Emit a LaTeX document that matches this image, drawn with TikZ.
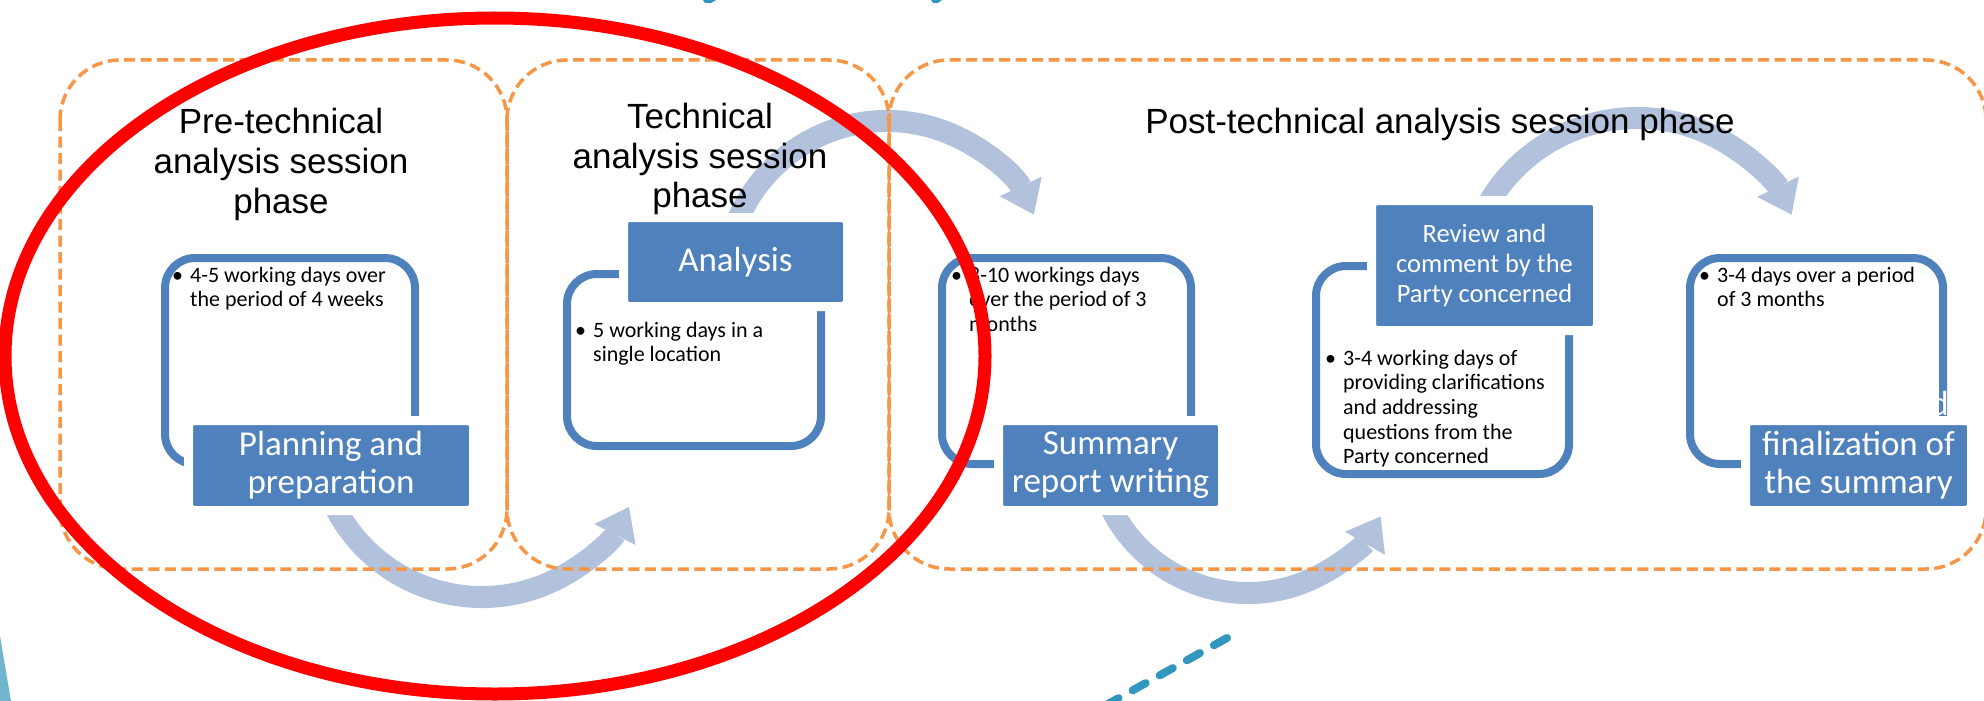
\documentclass[tikz,border=0pt]{standalone}
\usepackage{fontspec}
\setmainfont{Liberation Sans}
\newfontfamily\calibri{Carlito}
\usetikzlibrary{arrows.meta}
\definecolor{procblue}{RGB}{79,129,189}
\definecolor{arcblue}{RGB}{178,194,221}
\definecolor{frameorange}{RGB}{247,150,70}
\definecolor{markred}{RGB}{255,0,0}
\definecolor{tealdash}{RGB}{50,151,190}
\definecolor{tealwedge}{RGB}{114,181,206}
\newcommand{\titlelines}[1]{\begin{tabular}[t]{@{}c@{}}#1\end{tabular}}
\newcommand{\bulletlines}[1]{\begin{tabular}[t]{@{}l@{\hspace{7pt}}l@{}}\textbullet & #1\end{tabular}}

\begin{document}
\begin{tikzpicture}[x=1pt, y=-1pt,
		phaseframe/.style={draw=frameorange, line width=3.5pt, dash pattern=on 11pt off 5.5pt, rounded corners=60pt},
		flowarc/.style={draw=arcblue, line width=22pt, -{Triangle[width=46pt, length=31pt, line width=1pt]}},
		cycleline/.style={draw=procblue, line width=8pt, rounded corners=30pt},
		stepbox/.style={fill=procblue, draw=white, line width=9pt, rounded corners=6pt, text=white, align=center, inner sep=0pt, font=\calibri\fontsize{35}{38}\selectfont},
		phasetitle/.style={anchor=base, inner sep=0pt, font=\fontsize{35}{40}\selectfont},
		bodytext/.style={anchor=base west, inner sep=0pt, font=\calibri\fontsize{22}{24.7}\selectfont}]
	\useasboundingbox (0,0) rectangle (1984,701);
	\clip (0,0) rectangle (1984,701);
	\fill[white] (0,0) rectangle (1984,701);

	\begin{scope}
		\coordinate (a1) at (482,432);
		\coordinate (a2) at (887,283);
		\coordinate (a3) at (1248,440);
		\coordinate (a4) at (1637,290);
		\draw[flowarc] ([shift={(156:165)}]a1) arc[start angle=156, end angle=27, radius=165];
		\draw[flowarc] ([shift={(200:162)}]a2) arc[start angle=200, end angle=335, radius=162];
		\draw[flowarc] ([shift={(156:153)}]a3) arc[start angle=156, end angle=30, radius=153];
		\draw[flowarc] ([shift={(207:172)}]a4) arc[start angle=207, end angle=334, radius=172];
	\end{scope}

	\foreach \xa/\xb in {60/507, 507/889, 889/1986} {
		\draw[phaseframe] (\xa,60) rectangle (\xb,569);
	}
	\foreach \xs in {507, 889} {
		\draw[frameorange, line width=2pt] (\xs,120) -- (\xs,509);
	}

	\foreach \xa/\ya/\xb/\yb in {165/258/415/464, 567/274/821/446, 942/258/1191/464, 1316/266/1569/474, 1690/258/1943/464} {
		\draw[cycleline] (\xa,\ya) rectangle (\xb,\yb);
	}

	\node[stepbox, minimum width=285pt, minimum height=90pt] (plan) at (331,465.5) {Planning and\\preparation};
	\node[stepbox, minimum width=224pt, minimum height=89pt] (anal) at (735.5,262) {Analysis};
	\node[stepbox, minimum width=224pt, minimum height=90pt] (summ) at (1110.5,465.5) {Summary\\report writing};
	\node[stepbox, minimum width=226pt, minimum height=130pt, font=\calibri\fontsize{26.5}{30}\selectfont] (revw) at (1484.5,265.5) {Review and\\comment by the\\Party concerned};
	\node[stepbox, minimum width=226pt, minimum height=90pt] (finl) at (1858.5,465.5) {finalization of\\the summary};
	\node[anchor=base east, inner sep=0pt, text=white, font=\calibri\fontsize{35}{38}\selectfont] (dpart) at (1949,415) {d};

	\node[phasetitle] (pretitle) at (281,133) {\titlelines{Pre-technical\\analysis session\\phase}};
	\node[phasetitle] (techtitle) at (700,128) {\titlelines{Technical\\analysis session\\phase}};
	\node[phasetitle] (posttitle) at (1440,133) {Post-technical analysis session phase};

	\node[bodytext] (plantxt) at (172,282) {\bulletlines{4-5 working days over\\ & the period of 4 weeks}};
	\node[bodytext] (analtxt) at (575,337) {\bulletlines{5 working days in a\\ & single location}};
	\node[bodytext] (summtxt) at (951,282) {\bulletlines{8-10 workings days\\ & over the period of 3\\ & months}};
	\node[bodytext] (revwtxt) at (1325,365) {\bulletlines{3-4 working days of\\ & providing clarifications\\ & and addressing\\ & questions from the\\ & Party concerned}};
	\node[bodytext] (finltxt) at (1699,282) {\bulletlines{3-4 days over a period\\ & of 3 months}};

	\draw[markred, line width=13pt] (495,356) ellipse[x radius=490, y radius=338];

	\fill[tealwedge] (0,636) -- (11,701) -- (0,701) -- cycle;
	\fill[tealdash] (703,0) -- (716,0) -- (711,3) -- (705,3) -- cycle;
	\fill[tealdash] (931,0) -- (942,0) -- (938,3) -- (933,3) -- cycle;
	\draw[tealdash, line width=8pt, line cap=round, dash pattern=on 15pt off 16pt] (1227,638) -- (1090,714);
\end{tikzpicture}
\end{document}
